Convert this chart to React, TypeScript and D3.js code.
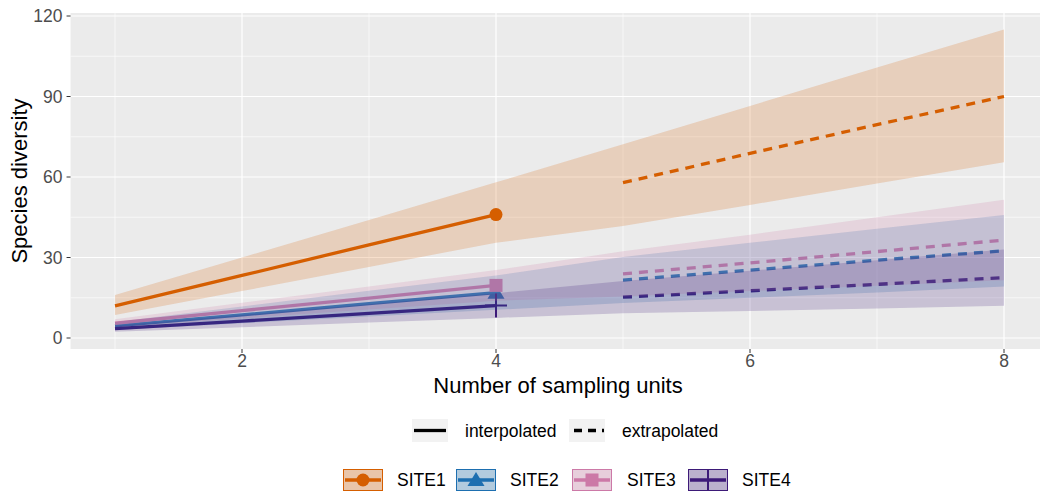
import React from "react";
import * as d3 from "d3";

const units = [1, 2, 3, 4, 5, 6, 7, 8];
const sites = ["SITE1", "SITE2", "SITE3", "SITE4"];
const colors = ["#D55E00", "#1D6FB0", "#CC79A7", "#3D1A78"];
const site1Est = [12, 23.3, 34.7, 46, 57.9, 68.8, 79.5, 90];
const site1Lo = [8.6, 17.5, 26.5, 35.5, 41.7, 49.6, 57.6, 65.5];
const site1Hi = [16, 30, 44, 58, 72.2, 86.5, 100.8, 115];
const site2Est = [4.5, 8.6, 12.8, 16.9, 21.6, 25.3, 29, 32.5];
const site2Lo = [3, 5.5, 8, 10.5, 13, 15, 17, 19.2];
const site2Hi = [6, 11.7, 17.6, 23.3, 30.2, 35.5, 40.7, 45.8];
const site3Est = [5.5, 10.2, 14.9, 19.6, 23.9, 28, 32.2, 36.5];
const site3Lo = [4, 7.3, 10.6, 13.9, 15.5, 17.5, 19.5, 21.5];
const site3Hi = [7, 13.1, 19.2, 25.3, 32.3, 38.5, 45, 51.5];
const site4Est = [3.5, 6.3, 9.2, 12.1, 15.2, 17.6, 20, 22.5];
const site4Lo = [2.3, 4, 5.8, 7.5, 9.2, 10.1, 11, 12];
const site4Hi = [4.7, 8.6, 12.6, 16.7, 21.2, 25.1, 29, 33];
const observedUnits = 4;
const xTicks = [2, 4, 6, 8];
const xMinor = [1, 3, 5, 7];
const yTicks = [0, 30, 60, 90, 120];
const yMinor = [15, 45, 75, 105];
const shapes = ["circle", "triangle", "square", "plus"];

const estimates = [site1Est, site2Est, site3Est, site4Est];
const lows = [site1Lo, site2Lo, site3Lo, site4Lo];
const highs = [site1Hi, site2Hi, site3Hi, site4Hi];

const FONT = "'Liberation Sans', Arial, sans-serif";

function Marker({ shape, cx, cy, color }: { shape: string; cx: number; cy: number; color: string }) {
  if (shape === "circle") return <circle cx={cx} cy={cy} r={6.5} fill={color} />;
  if (shape === "triangle")
    return <path d={`M${cx},${cy - 8}L${cx + 8.5},${cy + 6}L${cx - 8.5},${cy + 6}Z`} fill={color} />;
  if (shape === "square") return <rect x={cx - 6.5} y={cy - 6.5} width={13} height={13} fill={color} />;
  return (
    <path d={`M${cx - 11},${cy}H${cx + 11}M${cx},${cy - 12}V${cy + 12}`} stroke={color} strokeWidth={2} fill="none" />
  );
}

export default function App() {
  const x = d3.scaleLinear().domain([1, 8]).range([115, 1004]);
  const y = d3.scaleLinear().domain([0, 120]).range([338, 16]);
  const panelL = x(0.65);
  const panelR = x(8.35);
  const panelT = y(121.1);
  const panelB = y(-4.1);

  const mkLine = (xs: number[], vals: number[]) =>
    d3
      .line<number>()
      .x((d) => x(d))
      .y((_, i) => y(vals[i]))(xs) as string;

  const area = (si: number) =>
    d3
      .area<number>()
      .x((d) => x(d))
      .y0((_, i) => y(lows[si][i]))
      .y1((_, i) => y(highs[si][i]))(units) as string;

  const interpIdx = units.map((u, i) => i).filter((i) => units[i] <= observedUnits);
  const extrapIdx = units.map((u, i) => i).filter((i) => units[i] > observedUnits);

  const legendSites = [
    { kx: 343, tx: 397 },
    { kx: 456, tx: 510 },
    { kx: 572, tx: 627 },
    { kx: 688, tx: 742 },
  ];

  return (
    <svg width={1040} height={493} style={{ position: "absolute", left: 0, top: 0, background: "#fff" }} fontFamily={FONT}>
      <defs>
        <clipPath id="panel">
          <rect x={panelL} y={panelT} width={panelR - panelL} height={panelB - panelT} />
        </clipPath>
      </defs>
      <rect x={panelL} y={panelT} width={panelR - panelL} height={panelB - panelT} fill="#EBEBEB" />
      {yMinor.map((v) => (
        <line key={"ym" + v} x1={panelL} x2={panelR} y1={y(v)} y2={y(v)} stroke="#fff" strokeWidth={0.6} />
      ))}
      {xMinor.map((v) => (
        <line key={"xm" + v} x1={x(v)} x2={x(v)} y1={panelT} y2={panelB} stroke="#fff" strokeWidth={0.6} />
      ))}
      {yTicks.map((v) => (
        <line key={"yM" + v} x1={panelL} x2={panelR} y1={y(v)} y2={y(v)} stroke="#fff" strokeWidth={1.2} />
      ))}
      {xTicks.map((v) => (
        <line key={"xM" + v} x1={x(v)} x2={x(v)} y1={panelT} y2={panelB} stroke="#fff" strokeWidth={1.2} />
      ))}
      <g clipPath="url(#panel)">
        {estimates.map((est, si) => (
          <g key={"l" + si}>
            <path
              d={mkLine(interpIdx.map((i) => units[i]), interpIdx.map((i) => est[i]))}
              stroke={colors[si]}
              strokeWidth={3.3}
              fill="none"
            />
            <path
              d={mkLine(extrapIdx.map((i) => units[i]), extrapIdx.map((i) => est[i]))}
              stroke={colors[si]}
              strokeWidth={3.3}
              strokeDasharray="9,7"
              fill="none"
            />
          </g>
        ))}
        {estimates.map((est, si) => {
          const i = units.indexOf(observedUnits);
          return <Marker key={"m" + si} shape={shapes[si]} cx={x(units[i])} cy={y(est[i])} color={colors[si]} />;
        })}
        {sites.map((s, si) => (
          <path key={"a" + s} d={area(si)} fill={colors[si]} fillOpacity={0.2} stroke="none" />
        ))}
      </g>
      {yTicks.map((v) => (
        <g key={"yt" + v}>
          <line x1={panelL - 4} x2={panelL} y1={y(v)} y2={y(v)} stroke="#333" strokeWidth={1} />
          <text x={panelL - 8} y={y(v)} dy="0.35em" textAnchor="end" fontSize={17.5} fill="#4D4D4D">
            {v}
          </text>
        </g>
      ))}
      {xTicks.map((v) => (
        <g key={"xt" + v}>
          <line x1={x(v)} x2={x(v)} y1={panelB} y2={panelB + 4} stroke="#333" strokeWidth={1} />
          <text x={x(v)} y={361} dy="0.35em" textAnchor="middle" fontSize={17.5} fill="#4D4D4D">
            {v}
          </text>
        </g>
      ))}
      <text x={558} y={385} dy="0.35em" textAnchor="middle" fontSize={22} fill="#000">
        Number of sampling units
      </text>
      <text
        transform={`translate(19,${(panelT + panelB) / 2}) rotate(-90)`}
        dy="0.35em"
        textAnchor="middle"
        fontSize={22}
        fill="#000"
      >
        Species diversity
      </text>

      {/* linetype legend */}
      <rect x={412} y={419} width={36} height={23} fill="#F2F2F2" />
      <line x1={414} x2={446} y1={430.5} y2={430.5} stroke="#000" strokeWidth={3.3} />
      <text x={465} y={430.5} dy="0.35em" fontSize={17.5} fill="#000">
        interpolated
      </text>
      <rect x={569} y={419} width={36} height={23} fill="#F2F2F2" />
      <line x1={574} x2={604} y1={430.5} y2={430.5} stroke="#000" strokeWidth={3.3} strokeDasharray="8,6" />
      <text x={622} y={430.5} dy="0.35em" fontSize={17.5} fill="#000">
        extrapolated
      </text>

      {/* site legend */}
      {sites.map((s, si) => {
        const { kx, tx } = legendSites[si];
        const ky = 469;
        const kw = 40;
        const kh = 22;
        const cy = ky + kh / 2;
        return (
          <g key={"lg" + s}>
            <rect x={kx} y={ky} width={kw} height={kh} fill="#F2F2F2" />
            <rect x={kx + 0.5} y={ky + 0.5} width={kw - 1} height={kh - 1} fill={colors[si]} fillOpacity={0.3} stroke={colors[si]} strokeWidth={1} />
            <line x1={kx + 2} x2={kx + kw - 2} y1={cy} y2={cy} stroke={colors[si]} strokeWidth={3.3} />
            {shapes[si] === "plus" ? (
              <line x1={kx + kw / 2} x2={kx + kw / 2} y1={ky} y2={ky + kh} stroke={colors[si]} strokeWidth={2} />
            ) : (
              <Marker shape={shapes[si]} cx={kx + kw / 2} cy={cy} color={colors[si]} />
            )}
            <text x={tx} y={cy} dy="0.35em" fontSize={17.5} fill="#000">
              {s}
            </text>
          </g>
        );
      })}
    </svg>
  );
}
